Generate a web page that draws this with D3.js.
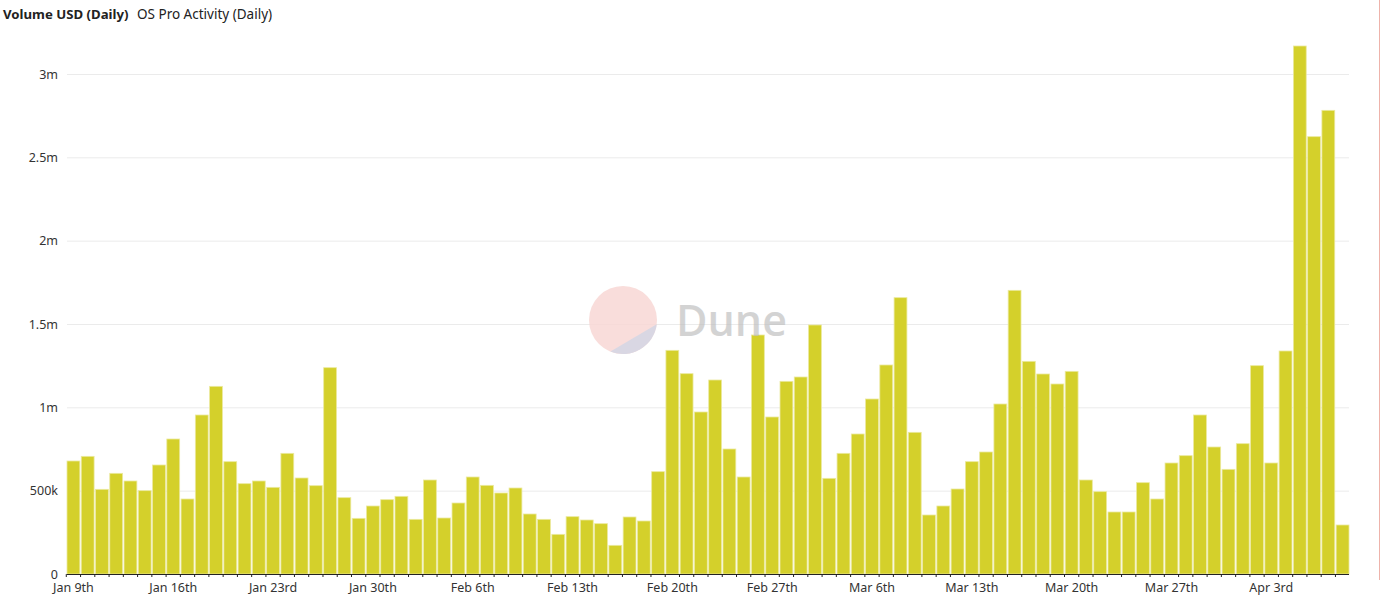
<!DOCTYPE html>
<html>
<head>
<meta charset="utf-8">
<script src="https://cdn.jsdelivr.net/npm/d3@7"></script>
<style>
  body { margin: 0; background: #fff; }
  svg { display: block; font-family: "Noto Sans", "Open Sans", sans-serif; }
</style>
</head>
<body>
<div id="chart"></div>
<script>
// daily volume (USD), Jan 9th -> Apr 8th
var startDate = "2023-01-09"
var volume = [
  678000, 706000, 508000, 604000, 558000, 500000, 654000, 810000, 450000, 954000,
  1126000, 674000, 542000, 558000, 520000, 724000, 576000, 530000, 1238000, 458000,
  334000, 408000, 446000, 466000, 328000, 564000, 336000, 426000, 582000, 532000,
  486000, 516000, 360000, 328000, 238000, 344000, 324000, 302000, 172000, 342000,
  318000, 614000, 1342000, 1202000, 972000, 1164000, 750000, 582000, 1434000, 942000,
  1156000, 1182000, 1494000, 574000, 724000, 840000, 1050000, 1254000, 1658000, 850000,
  354000, 408000, 510000, 674000, 732000, 1020000, 1702000, 1276000, 1200000, 1140000,
  1216000, 564000, 494000, 372000, 372000, 548000, 450000, 666000, 710000, 954000,
  762000, 628000, 782000, 1250000, 666000, 1338000, 3168000, 2624000, 2782000, 294000
]
var yTicks = [0, 500000, 1000000, 1500000, 2000000, 2500000, 3000000]
var yTickLabels = ["0", "500k", "1m", "1.5m", "2m", "2.5m", "3m"]
var xTickLabels = ["Jan 9th", "Jan 16th", "Jan 23rd", "Jan 30th", "Feb 6th", "Feb 13th",
  "Feb 20th", "Feb 27th", "Mar 6th", "Mar 13th", "Mar 20th", "Mar 27th", "Apr 3rd"]

var W = 1380, H = 602
var mLeft = 67, mRight = 1349, mTop = 74, mBottom = 574

var start = new Date(startDate + "T00:00:00")
var days = volume.map(function (v, i) { return d3.timeDay.offset(start, i) })
var data = volume.map(function (v, i) { return { date: days[i], value: v } })

var svg = d3.select("#chart").append("svg")
  .attr("width", W)
  .attr("height", H)

var x = d3.scaleBand()
  .domain(days)
  .range([mLeft, mRight])
  .paddingInner(0.1)
  .paddingOuter(0)

var y = d3.scaleLinear()
  .domain([0, 3000000])
  .range([mBottom, mTop])

// titles
svg.append("text")
  .attr("x", 3).attr("y", 19)
  .attr("font-size", 13.2).attr("font-weight", 700)
  .attr("fill", "#222")
  .text("Volume USD (Daily)")
svg.append("text")
  .attr("x", 137).attr("y", 19)
  .attr("font-size", 13.5)
  .attr("fill", "#222")
  .text("OS Pro Activity (Daily)")

// grid
var yAxis = d3.axisLeft(y)
  .tickValues(yTicks)
  .tickSize(-(mRight - mLeft))
  .tickPadding(9)
  .tickFormat(function (d, i) { return yTickLabels[i] })
var gy = svg.append("g")
  .attr("transform", "translate(" + mLeft + ",0)")
  .call(yAxis)
gy.select(".domain").remove()
gy.selectAll(".tick line").attr("stroke", "#ebebeb")
gy.selectAll(".tick text")
  .attr("font-size", 12.5)
  .attr("fill", "#333")
  .attr("x", -9)
  .style("font-family", "Noto Sans, Open Sans, sans-serif")

// watermark circle
var wm = svg.append("g").attr("opacity", 0.85)
var cx = 623, cy = 320, r = 34
wm.append("circle").attr("cx", cx).attr("cy", cy).attr("r", r).attr("fill", "#f8d8d5")
var a1 = Math.PI * 0.62, a2 = Math.PI * 0.04   // chord ends
var p1 = [cx + r * Math.cos(a1), cy + r * Math.sin(a1)]
var p2 = [cx + r * Math.cos(a2), cy + r * Math.sin(a2)]
wm.append("path")
  .attr("d", "M" + p1[0] + "," + p1[1] + "L" + p2[0] + "," + p2[1] +
    "A" + r + "," + r + " 0 0 1 " + p1[0] + "," + p1[1] + "Z")
  .attr("fill", "#d3d1df")

// bars
svg.append("g").selectAll("rect")
  .data(data)
  .enter()
  .append("rect")
  .attr("x", function (d) { return x(d.date) })
  .attr("y", function (d) { return y(d.value) })
  .attr("width", x.bandwidth())
  .attr("height", function (d) { return y(0) - y(d.value) })
  .attr("fill", "#d4d02b")
  .attr("stroke", "#ebe99e")
  .attr("stroke-width", 0.8)

svg.append("text")
  .attr("x", 676).attr("y", 336)
  .attr("font-size", 43).attr("font-weight", 600)
  .attr("fill", "#bdbdbd").attr("opacity", 0.65)
  .style("font-family", "Open Sans, Noto Sans, sans-serif")
  .text("Dune")

// x axis
var xAxis = d3.axisBottom(x)
  .tickValues(days.filter(function (d, i) { return i % 7 === 0 }))
  .tickSize(0)
  .tickPadding(9)
  .tickFormat(function (d, i) { return xTickLabels[i] })
var gx = svg.append("g")
  .attr("transform", "translate(0," + mBottom + ")")
  .call(xAxis)
gx.select(".domain").attr("stroke", "#222").attr("d", "M" + mLeft + ",0.5H" + mRight)
gx.selectAll(".tick text")
  .attr("font-size", 12.5)
  .attr("fill", "#333")
  .style("font-family", "Noto Sans, Open Sans, sans-serif")

// small ticks between bars
svg.append("g").selectAll("line")
  .data(days)
  .enter()
  .append("line")
  .attr("x1", function (d) { return x(d) - x.step() * x.paddingInner() / 2 })
  .attr("x2", function (d) { return x(d) - x.step() * x.paddingInner() / 2 })
  .attr("y1", mBottom)
  .attr("y2", mBottom + 3)
  .attr("stroke", "#222")
  .attr("stroke-width", 1)

// right edge line
svg.append("line")
  .attr("x1", 1379.5).attr("x2", 1379.5)
  .attr("y1", 0).attr("y2", 580)
  .attr("stroke", "#eeb3ab").attr("stroke-width", 1)
</script>
</body>
</html>
